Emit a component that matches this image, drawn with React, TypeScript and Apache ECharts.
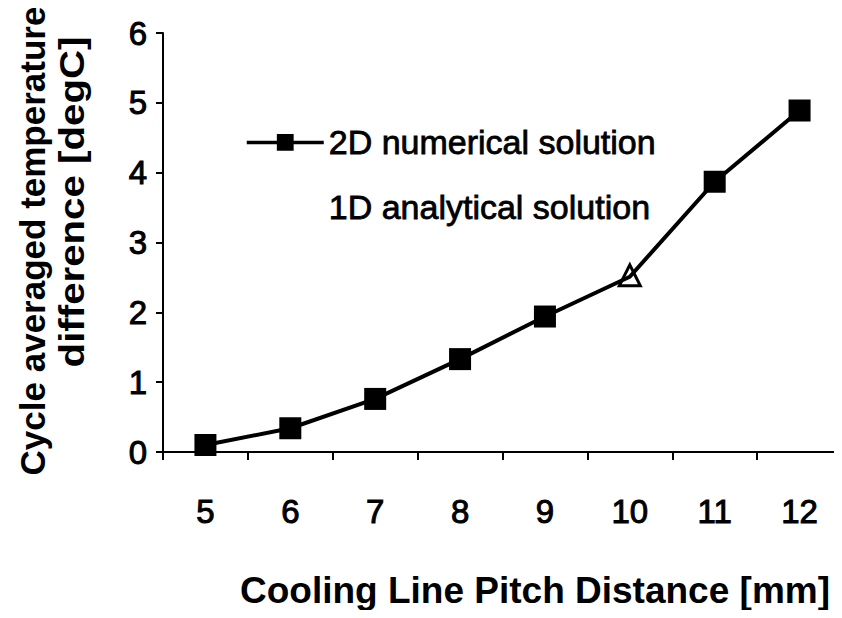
import React, { useEffect, useRef } from "react";
import * as echarts from "echarts";

const categories = ["5", "6", "7", "8", "9", "10", "11", "12"];
const numerical2D = [0.1, 0.34, 0.76, 1.33, 1.94, 2.51, 3.87, 4.89];
const analytical1D = [0.1, 0.34, 0.76, 1.33, 1.96, 2.53, 3.87, 4.89];
const yTicks = [0, 1, 2, 3, 4, 5, 6];

const FONT = "'Liberation Sans', Arial, Helvetica, sans-serif";

export default function App() {
  const ref = useRef<HTMLDivElement>(null);
  useEffect(() => {
    if (!ref.current) return;
    const chart = echarts.init(ref.current, null, { renderer: "svg" });
    chart.setOption({
      animation: false,
      backgroundColor: "#ffffff",
      grid: { left: 163, right: -8, top: 33, bottom: 166, containLabel: false },
      legend: {
        orient: "vertical",
        left: 245,
        top: 125,
        padding: 0,
        itemWidth: 77,
        itemHeight: 21,
        itemGap: 30,
        textStyle: {
          fontFamily: FONT,
          fontSize: 34,
          color: "#000",
          textBorderColor: "#000",
          textBorderWidth: 0.8,
        },
        data: [
          { name: "2D numerical solution", lineStyle: { width: 3.5, color: "#000" } },
          {
            name: "1D analytical solution",
            itemStyle: { opacity: 0 },
            lineStyle: { opacity: 0 },
          },
        ],
      },
      xAxis: {
        type: "category",
        data: categories,
        boundaryGap: true,
        axisLine: { show: true, lineStyle: { color: "#000", width: 2 } },
        axisTick: { show: true, length: 8, lineStyle: { color: "#000", width: 2 } },
        axisLabel: {
          fontFamily: FONT,
          fontSize: 33,
          color: "#000",
          margin: 43,
          textBorderColor: "#000",
          textBorderWidth: 1,
        },
        splitLine: { show: false },
      },
      yAxis: {
        type: "value",
        min: yTicks[0],
        max: yTicks[yTicks.length - 1],
        interval: 1,
        axisLine: { show: true, lineStyle: { color: "#000", width: 2 } },
        axisTick: { show: true, length: 7, lineStyle: { color: "#000", width: 2 } },
        axisLabel: {
          fontFamily: FONT,
          fontSize: 33,
          color: "#000",
          margin: 16,
          textBorderColor: "#000",
          textBorderWidth: 1,
        },
        splitLine: { show: false },
      },
      graphic: [
        {
          type: "text",
          x: 32,
          y: 241,
          rotation: Math.PI / 2,
          style: {
            text: "Cycle averaged temperature",
            font: `bold 35px ${FONT}`,
            fill: "#000",
            align: "center",
            verticalAlign: "middle",
          },
        },
        {
          type: "text",
          x: 72,
          y: 202,
          rotation: Math.PI / 2,
          scaleX: 1.15,
          style: {
            text: "difference [degC]",
            font: `bold 35px ${FONT}`,
            fill: "#000",
            align: "center",
            verticalAlign: "middle",
          },
        },
        {
          type: "text",
          x: 535,
          y: 590,
          style: {
            text: "Cooling Line Pitch Distance [mm]",
            font: `bold 37px ${FONT}`,
            fill: "#000",
            align: "center",
            verticalAlign: "middle",
          },
        },
      ],
      series: [
        {
          name: "1D analytical solution",
          type: "line",
          data: analytical1D.map((v, i) =>
            categories[i] === "10" ? v : { value: v, symbol: "none" }
          ),
          z: 2,
          symbol: "triangle",
          symbolSize: 21,
          showSymbol: true,
          lineStyle: { opacity: 0 },
          itemStyle: { color: "#ffffff", borderColor: "#000", borderWidth: 3 },
        },
        {
          name: "2D numerical solution",
          type: "line",
          z: 3,
          data: numerical2D.map((v, i) =>
            categories[i] === "10" ? { value: v, symbol: "none" } : v
          ),
          symbol: "rect",
          symbolSize: 22,
          showSymbol: true,
          lineStyle: { color: "#000", width: 4 },
          itemStyle: { color: "#000" },
        },
      ],
    });
    return () => chart.dispose();
  }, []);
  return <div ref={ref} style={{ width: 842, height: 618, margin: -8 }} />;
}
